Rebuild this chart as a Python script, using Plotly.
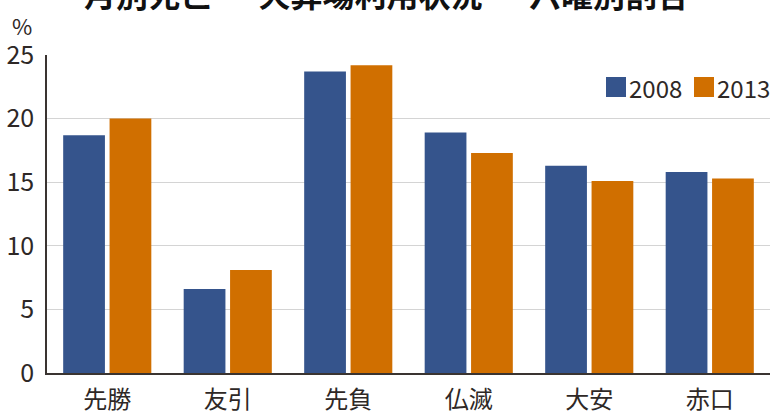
import plotly.graph_objects as go

categories = ["先勝", "友引", "先負", "仏滅", "大安", "赤口"]
series_names = ["2008", "2013"]
values_2008 = [18.7, 6.6, 23.7, 18.9, 16.3, 15.8]
values_2013 = [20.0, 8.1, 24.2, 17.3, 15.1, 15.3]
colors = ["#35548C", "#D06F00"]
y_ticks = [0, 5, 10, 15, 20, 25]
title_text = "月別死亡 ー 火葬場利用状況 ー 六曜別割合"

FONT = "Noto Sans CJK JP"
TXT = "#2e2826"

fig = go.Figure()
for name, vals, col in zip(series_names, [values_2008, values_2013], colors):
    fig.add_trace(go.Bar(x=categories, y=vals, name=name, marker_color=col,
                         marker_line_width=0, showlegend=False))

fig.update_layout(
    width=770, height=412,
    margin=dict(l=47, r=0, t=55, b=39, autoexpand=False),
    paper_bgcolor="white", plot_bgcolor="white",
    barmode="group", bargap=0.23, bargroupgap=0.1,
    font=dict(family=FONT, color=TXT, size=24),
    xaxis=dict(showline=True, linecolor="#3a3431", linewidth=1.5, automargin=False,
               ticks="", tickfont=dict(size=24, family=FONT, color=TXT),
               ticklabelstandoff=4),
    yaxis=dict(range=[0, 25], tickvals=y_ticks, showline=True, linecolor="#3a3431",
               linewidth=1.5, showgrid=True, gridcolor="#d4d4d4", gridwidth=1,
               ticks="", zeroline=False, automargin=False,
               tickfont=dict(size=25, family=FONT, color=TXT), ticklabelstandoff=6),
)

# unit label
fig.add_annotation(text="%", xref="paper", yref="paper", x=-0.035, y=1.0,
                   xanchor="center", yanchor="bottom", yshift=12, showarrow=False,
                   font=dict(size=22, family=FONT, color=TXT))

# title (cut off at top as in reference)
fig.add_annotation(text="<b>" + title_text + "</b>", xref="paper", yref="paper",
                   x=0.47, y=1.0, xanchor="center", yanchor="bottom", yshift=37,
                   showarrow=False, font=dict(size=32, family=FONT, color="#111111"))

# manual legend
legend_x = [606, 694]
for name, col, lx in zip(series_names, colors, legend_x):
    fx0 = (lx - 47) / 723
    fx1 = (lx + 20 - 47) / 723
    fig.add_shape(type="rect", xref="paper", yref="paper",
                  x0=fx0, x1=fx1, y0=(373 - 97) / 318, y1=(373 - 77) / 318,
                  fillcolor=col, line_width=0)
    fig.add_annotation(text=name, xref="paper", yref="paper", x=fx1, y=(373 - 87) / 318,
                       xanchor="left", yanchor="middle", xshift=1, showarrow=False,
                       font=dict(size=24, family=FONT, color=TXT))

fig.write_html("out.html")
